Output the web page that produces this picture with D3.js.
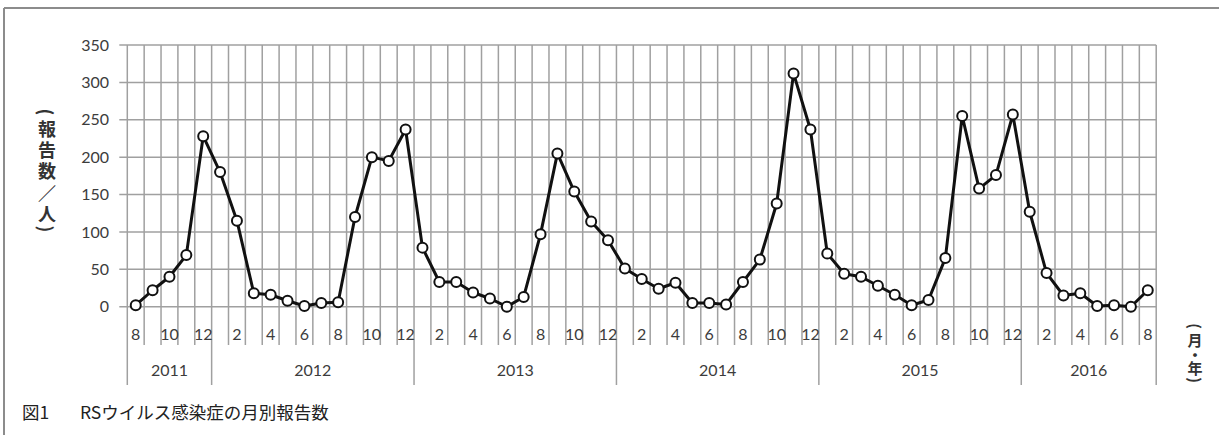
<!DOCTYPE html>
<html>
<head>
    <meta charset="utf-8">
    <script src="https://d3js.org/d3.v7.min.js"></script>
    <style>
        body {
            margin: 0;
            background: #fff;
        }
        svg {
            display: block;
            font-family: Lato, "Noto Sans", sans-serif;
        }
        .grid line {
            stroke: #a0a0a0;
            stroke-width: 1.5;
        }
        .tick-label {
            font-size: 16px;
            fill: #3c3c3c;
        }
        .jp {
            font-family: "Noto Sans CJK JP", sans-serif;
        }
    </style>
</head>
<body>
<div id="chart"></div>
<script>
    // monthly RSV reports, Aug 2011 - Aug 2016
    const months = [8, 9, 10, 11, 12,
        1, 2, 3, 4, 5, 6, 7, 8, 9, 10, 11, 12,
        1, 2, 3, 4, 5, 6, 7, 8, 9, 10, 11, 12,
        1, 2, 3, 4, 5, 6, 7, 8, 9, 10, 11, 12,
        1, 2, 3, 4, 5, 6, 7, 8, 9, 10, 11, 12,
        1, 2, 3, 4, 5, 6, 7, 8];
    const cases = [2, 22, 40, 69, 228,
        180, 115, 18, 16, 8, 1, 5, 6, 120, 200, 195, 237,
        79, 33, 33, 19, 11, 0, 13, 97, 205, 154, 114, 89,
        51, 37, 24, 32, 5, 5, 3, 33, 63, 138, 312, 237,
        71, 44, 40, 28, 16, 2, 9, 65, 255, 158, 176, 257,
        127, 45, 15, 18, 1, 2, 0, 22];
    const years = ["2011", "2012", "2013", "2014", "2015", "2016"];
    const yearStarts = [0, 5, 17, 29, 41, 53, 61];
    const yTicks = [0, 50, 100, 150, 200, 250, 300, 350];
    const yTitle = ["(", "報", "告", "数", "／", "人", ")"];
    const xTitle = ["(", "月", "・", "年", ")"];

    const width = 1219, height = 435;
    const svg = d3.select("#chart").append("svg")
        .attr("width", width)
        .attr("height", height);

    // frame
    svg.append("line").attr("x1", 4).attr("x2", width).attr("y1", 8).attr("y2", 8)
        .attr("stroke", "#8c8c8c").attr("stroke-width", 2);
    svg.append("line").attr("x1", 4).attr("x2", 4).attr("y1", 8).attr("y2", height)
        .attr("stroke", "#8c8c8c").attr("stroke-width", 2);

    const x = d3.scaleBand()
        .domain(d3.range(cases.length))
        .range([127.3, 1156.2])
        .padding(0);

    const y = d3.scaleLinear()
        .domain([0, 350])
        .range([306.7, 45]);

    const left = x.range()[0], right = x.range()[1];
    const bw = x.bandwidth();

    const grid = svg.append("g").attr("class", "grid");

    // horizontal gridlines
    grid.selectAll(".hline")
        .data(yTicks)
        .enter()
        .append("line")
        .attr("x1", left - 8)
        .attr("x2", right)
        .attr("y1", d => y(d))
        .attr("y2", d => y(d));

    // vertical lines between categories
    grid.selectAll(".vline")
        .data(d3.range(cases.length + 1))
        .enter()
        .append("line")
        .attr("x1", i => left + i * bw)
        .attr("x2", i => left + i * bw)
        .attr("y1", y(350))
        .attr("y2", i => yearStarts.includes(i) ? 385 : 345);

    // y tick labels
    svg.selectAll(".ylab")
        .data(yTicks)
        .enter()
        .append("text")
        .attr("class", "tick-label")
        .attr("x", 109)
        .attr("y", d => y(d))
        .attr("dy", "0.35em")
        .attr("text-anchor", "end")
        .text(d => d);

    // month labels (every other month)
    svg.selectAll(".mlab")
        .data(months.map((m, i) => ({m, i})).filter(d => d.i % 2 === 0))
        .enter()
        .append("text")
        .attr("class", "tick-label")
        .attr("x", d => x(d.i) + bw / 2)
        .attr("y", 334)
        .attr("dy", "0.35em")
        .attr("text-anchor", "middle")
        .text(d => d.m);

    // year labels
    svg.selectAll(".yearlab")
        .data(years)
        .enter()
        .append("text")
        .attr("class", "tick-label")
        .attr("x", (d, i) => left + (yearStarts[i] + yearStarts[i + 1]) / 2 * bw)
        .attr("y", 370)
        .attr("dy", "0.35em")
        .attr("text-anchor", "middle")
        .text(d => d);

    // line
    const line = d3.line()
        .x((d, i) => x(i) + bw / 2)
        .y(d => y(d));

    svg.append("path")
        .datum(cases)
        .attr("fill", "none")
        .attr("stroke", "#111")
        .attr("stroke-width", 3)
        .attr("stroke-linejoin", "round")
        .attr("d", line);

    svg.selectAll(".dot")
        .data(cases)
        .enter()
        .append("circle")
        .attr("cx", (d, i) => x(i) + bw / 2)
        .attr("cy", d => y(d))
        .attr("r", 5)
        .attr("fill", "#fff")
        .attr("stroke", "#111")
        .attr("stroke-width", 2);

    // axis titles, stacked one character per line; brackets turned sideways
    function verticalTitle(chars, cx, ys, size) {
        svg.selectAll(null)
            .data(chars)
            .enter()
            .append("text")
            .attr("class", "jp")
            .attr("x", cx)
            .attr("y", (d, i) => ys[i])
            .attr("dominant-baseline", "central")
            .attr("text-anchor", "middle")
            .attr("transform", (d, i) => (d === "(" || d === ")") ? `rotate(90 ${cx} ${ys[i]})` : null)
            .style("font-size", size + "px")
            .style("font-weight", "bold")
            .attr("fill", "#333")
            .text(d => d);
    }
    verticalTitle(yTitle, 47, [112, 128, 149, 170, 192, 213, 229], 18);
    verticalTitle(xTitle, 1195, [326, 339, 354, 367, 380], 15);

    // caption
    const caption = svg.append("text")
        .attr("class", "jp")
        .attr("y", 419)
        .style("font-size", "17.5px")
        .attr("fill", "#222");
    caption.append("tspan").attr("x", 22).text("図1");
    caption.append("tspan").attr("x", 80).text("RSウイルス感染症の月別報告数");
</script>
</body>
</html>
